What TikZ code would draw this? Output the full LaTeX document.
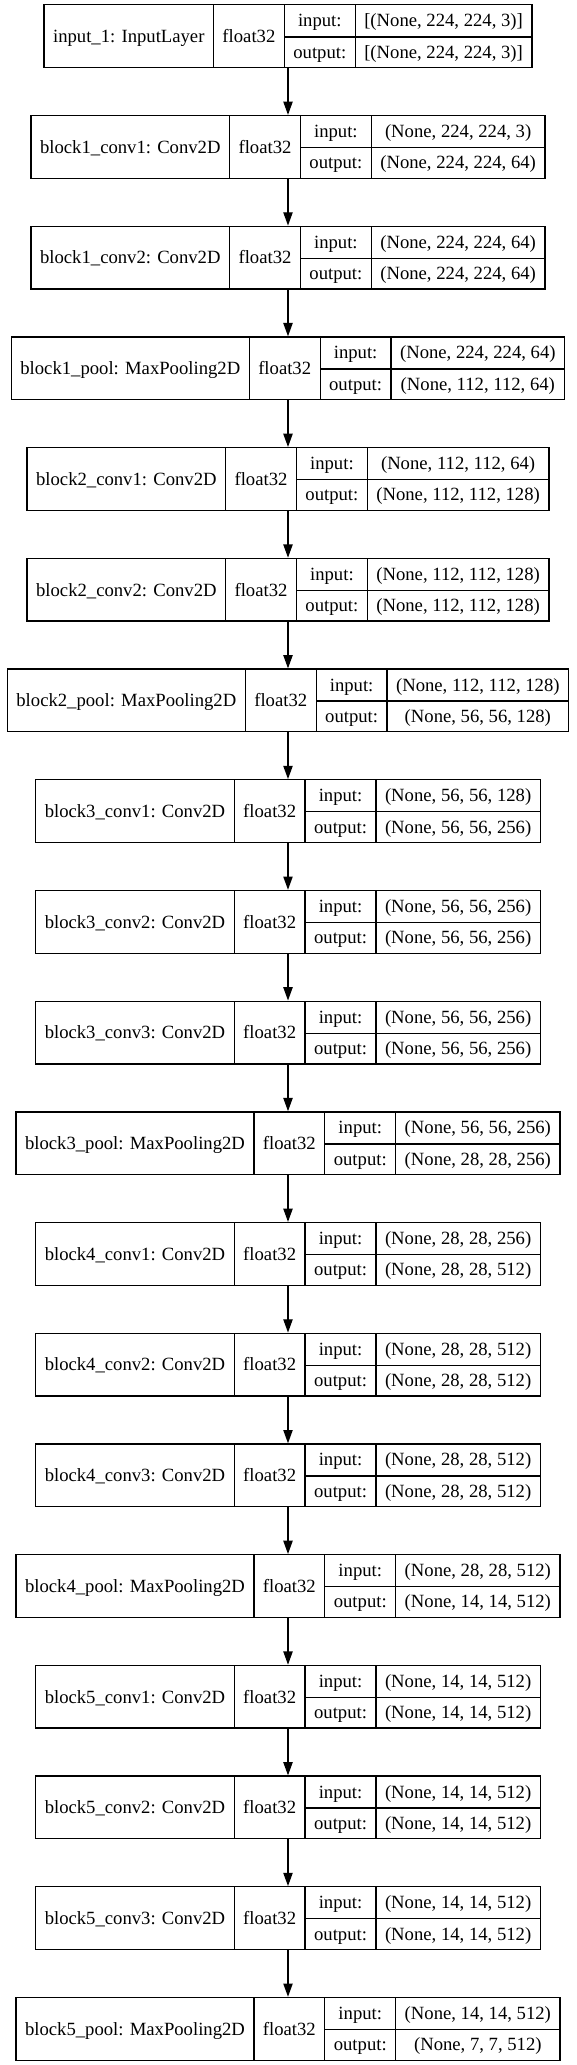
\documentclass[tikz,border=0pt]{standalone}
\usepackage{fontspec}
\setmainfont{Liberation Serif}
\usetikzlibrary{arrows.meta}

\setlength{\tabcolsep}{9pt}
\setlength{\arrayrulewidth}{1.3pt}
\renewcommand{\arraystretch}{1.4}
\newcommand{\lowtext}[1]{\smash{\raisebox{-15.7pt}{#1}}}
\newcommand{\layertab}[3]{%
  \begin{tabular}{c|c|c|c}
    \lowtext{#1} & \lowtext{float32} & input: & #2 \\ \cline{3-4}
    & & output: & #3
  \end{tabular}}

\begin{document}
\begin{tikzpicture}[x=1pt, y=-1pt,
    font=\fontsize{18.67}{22.4}\selectfont,
    layer/.style={draw, line width=1.3pt, inner sep=0pt},
    flow/.style={-{Triangle[length=13.3pt, width=9.3pt]}, line width=1.3pt}]
    \useasboundingbox (0, 0) rectangle (576, 2065);

    \node[layer] (input1) at (288, 36.2) {\layertab{input\_1: InputLayer}{[(None, 224, 224, 3)]}{[(None, 224, 224, 3)]}};
    \node[layer] (b1conv1) at (288, 146.9) {\layertab{block1\_conv1: Conv2D}{(None, 224, 224, 3)}{(None, 224, 224, 64)}};
    \node[layer] (b1conv2) at (288, 257.6) {\layertab{block1\_conv2: Conv2D}{(None, 224, 224, 64)}{(None, 224, 224, 64)}};
    \node[layer] (b1pool) at (288, 368.3) {\layertab{block1\_pool: MaxPooling2D}{(None, 224, 224, 64)}{(None, 112, 112, 64)}};

    \node[layer] (b2conv1) at (288, 479.0) {\layertab{block2\_conv1: Conv2D}{(None, 112, 112, 64)}{(None, 112, 112, 128)}};
    \node[layer] (b2conv2) at (288, 589.7) {\layertab{block2\_conv2: Conv2D}{(None, 112, 112, 128)}{(None, 112, 112, 128)}};
    \node[layer] (b2pool) at (288, 700.4) {\layertab{block2\_pool: MaxPooling2D}{(None, 112, 112, 128)}{(None, 56, 56, 128)}};

    \node[layer] (b3conv1) at (288, 811.1) {\layertab{block3\_conv1: Conv2D}{(None, 56, 56, 128)}{(None, 56, 56, 256)}};
    \node[layer] (b3conv2) at (288, 921.8) {\layertab{block3\_conv2: Conv2D}{(None, 56, 56, 256)}{(None, 56, 56, 256)}};
    \node[layer] (b3conv3) at (288, 1032.5) {\layertab{block3\_conv3: Conv2D}{(None, 56, 56, 256)}{(None, 56, 56, 256)}};
    \node[layer] (b3pool) at (288, 1143.2) {\layertab{block3\_pool: MaxPooling2D}{(None, 56, 56, 256)}{(None, 28, 28, 256)}};

    \node[layer] (b4conv1) at (288, 1253.9) {\layertab{block4\_conv1: Conv2D}{(None, 28, 28, 256)}{(None, 28, 28, 512)}};
    \node[layer] (b4conv2) at (288, 1364.6) {\layertab{block4\_conv2: Conv2D}{(None, 28, 28, 512)}{(None, 28, 28, 512)}};
    \node[layer] (b4conv3) at (288, 1475.3) {\layertab{block4\_conv3: Conv2D}{(None, 28, 28, 512)}{(None, 28, 28, 512)}};
    \node[layer] (b4pool) at (288, 1586.0) {\layertab{block4\_pool: MaxPooling2D}{(None, 28, 28, 512)}{(None, 14, 14, 512)}};

    \node[layer] (b5conv1) at (288, 1696.7) {\layertab{block5\_conv1: Conv2D}{(None, 14, 14, 512)}{(None, 14, 14, 512)}};
    \node[layer] (b5conv2) at (288, 1807.4) {\layertab{block5\_conv2: Conv2D}{(None, 14, 14, 512)}{(None, 14, 14, 512)}};
    \node[layer] (b5conv3) at (288, 1918.1) {\layertab{block5\_conv3: Conv2D}{(None, 14, 14, 512)}{(None, 14, 14, 512)}};
    \node[layer] (b5pool) at (288, 2028.8) {\layertab{block5\_pool: MaxPooling2D}{(None, 14, 14, 512)}{(None, 7, 7, 512)}};

    % Arrows
    \draw[flow] (input1) -- (b1conv1);
    \draw[flow] (b1conv1) -- (b1conv2);
    \draw[flow] (b1conv2) -- (b1pool);
    \draw[flow] (b1pool) -- (b2conv1);
    \draw[flow] (b2conv1) -- (b2conv2);
    \draw[flow] (b2conv2) -- (b2pool);
    \draw[flow] (b2pool) -- (b3conv1);
    \draw[flow] (b3conv1) -- (b3conv2);
    \draw[flow] (b3conv2) -- (b3conv3);
    \draw[flow] (b3conv3) -- (b3pool);
    \draw[flow] (b3pool) -- (b4conv1);
    \draw[flow] (b4conv1) -- (b4conv2);
    \draw[flow] (b4conv2) -- (b4conv3);
    \draw[flow] (b4conv3) -- (b4pool);
    \draw[flow] (b4pool) -- (b5conv1);
    \draw[flow] (b5conv1) -- (b5conv2);
    \draw[flow] (b5conv2) -- (b5conv3);
    \draw[flow] (b5conv3) -- (b5pool);

\end{tikzpicture}
\end{document}
